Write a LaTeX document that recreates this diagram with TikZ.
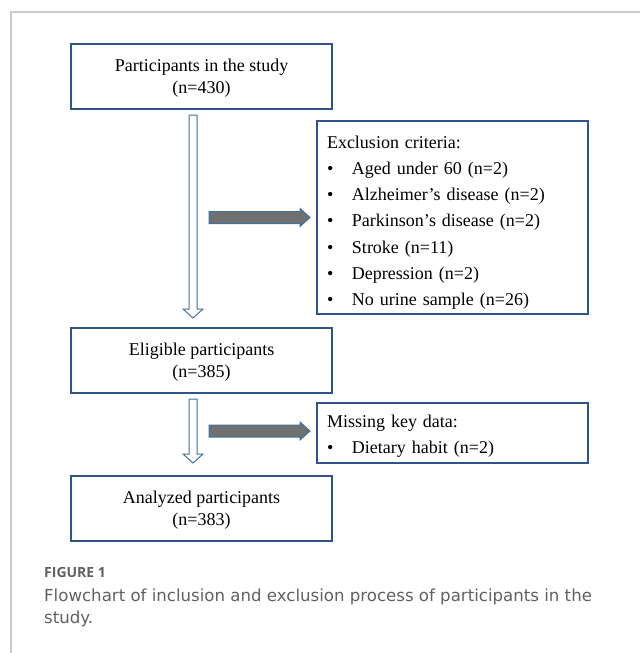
\documentclass[tikz,border=0pt]{standalone}
\usepackage{fontspec}
\setmainfont{Liberation Serif}
\newfontfamily\capfont{DejaVu Sans}
\newfontfamily\figfont{Open Sans}
\usetikzlibrary{calc, positioning}

\definecolor{boxblue}{RGB}{47,84,140}
\definecolor{arrowedge}{RGB}{65,113,156}
\definecolor{arrowgray}{RGB}{112,112,112}
\definecolor{framegray}{RGB}{204,204,204}
\definecolor{captiongray}{RGB}{96,96,96}

\newcommand{\bul}{\makebox[25pt][l]{\textbullet}}
\newcommand{\topgap}[1]{\rule{0pt}{#1}}
%% hollow block arrow pointing down, from #1 to #2
\newcommand{\downblock}[2]{%
    \filldraw[hollow arrow] ($(#1)+(-4,0)$) -- ($(#1)+(4,0)$) -- ($(#2)+(4,-9)$)
        -- ($(#2)+(10,-9)$) -- (#2) -- ($(#2)+(-10,-9)$) -- ($(#2)+(-4,-9)$) -- cycle;}
%% gray block arrow pointing right, from #1 to #2
\newcommand{\rightblock}[2]{%
    \filldraw[gray arrow] ($(#1)+(0,-6)$) -- ($(#2)+(-10,-6)$) -- ($(#2)+(-10,-9)$)
        -- (#2) -- ($(#2)+(-10,9)$) -- ($(#2)+(-10,6)$) -- ($(#1)+(0,6)$) -- cycle;}

\begin{document}
\begin{tikzpicture}[
        x=1pt, y=-1pt,
        flow box/.style={draw=boxblue, line width=1.3pt, outer sep=0pt, inner sep=0pt,
            minimum width=261, minimum height=65, align=center,
            font=\fontsize{18}{22}\selectfont},
        side box/.style={draw=boxblue, line width=1.3pt, outer sep=0pt, inner xsep=10pt,
            inner ysep=0pt, text width=251, align=left,
            font=\fontsize{18}{26.2}\selectfont},
        hollow arrow/.style={draw=arrowedge, fill=white, line width=1pt, line join=miter},
        gray arrow/.style={draw=arrowedge, fill=arrowgray, line width=1pt, line join=miter},
        caption/.style={inner sep=0pt, text=captiongray, align=left}
    ]
    \useasboundingbox (0,0) rectangle (640,653);
    \draw[framegray, line width=1.5pt] (640,12) -- (11,12) -- (11,653);

    \node[flow box, anchor=north west] (part) at (71,44) {\topgap{16.5pt}Participants in the study\\(n=430)};
    \node[flow box, anchor=north west] (elig) at (71,328) {\topgap{16.5pt}Eligible participants\\(n=385)};
    \node[flow box, anchor=north west] (anal) at (71,476) {\topgap{16.5pt}Analyzed participants\\(n=383)};

    \node[side box, anchor=north west, minimum height=193] (excl) at (317,121) {%
        \topgap{22.5pt}Exclusion criteria:\\
        \bul Aged under 60 (n=2)\\
        \bul Alzheimer’s disease (n=2)\\
        \bul Parkinson’s disease (n=2)\\
        \bul Stroke (n=11)\\
        \bul Depression (n=2)\\
        \bul No urine sample (n=26)};
    \node[side box, anchor=north west, minimum height=60] (miss) at (317,403) {%
        \topgap{18.5pt}Missing key data:\\
        \bul Dietary habit (n=2)};

    \coordinate (d1 top) at ($(part.south)+(-8.5,6)$);
    \coordinate (d1 tip) at ($(elig.north)+(-8.5,-10)$);
    \coordinate (d2 top) at ($(elig.south)+(-8.5,6)$);
    \coordinate (d2 tip) at ($(anal.north)+(-8.5,-13)$);
    \downblock{d1 top}{d1 tip}
    \downblock{d2 top}{d2 tip}

    \coordinate (r1 start) at ($(excl.west)+(-108,0)$);
    \coordinate (r1 tip) at ($(excl.west)+(-7,0)$);
    \coordinate (r2 start) at ($(miss.west)+(-108,-2)$);
    \coordinate (r2 tip) at ($(miss.west)+(-7,-2)$);
    \rightblock{r1 start}{r1 tip}
    \rightblock{r2 start}{r2 tip}

    \node[caption, anchor=base west, font=\figfont\bfseries\fontsize{14}{16}\selectfont] (fig) at (44,577) {FIGURE 1};
    \node[caption, anchor=north west, font=\capfont\fontsize{16.6}{22}\selectfont] (cap) at (44,589)
        {Flowchart of inclusion and exclusion process of participants in the\\study.};
\end{tikzpicture}
\end{document}
